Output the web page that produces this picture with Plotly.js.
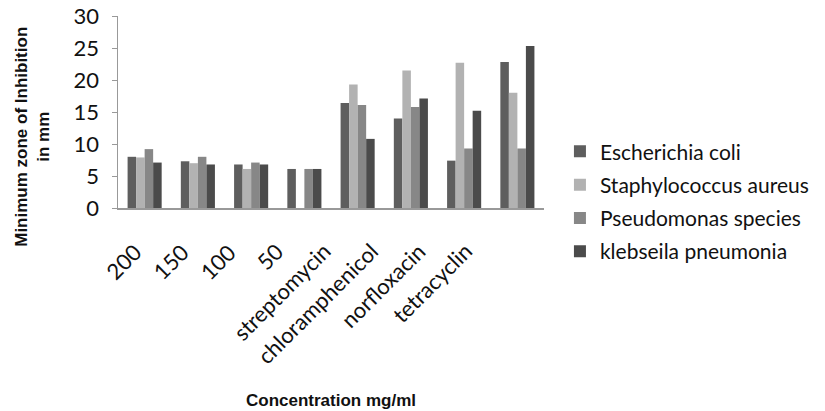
<!DOCTYPE html>
<html>
<head>
<meta charset="utf-8">
<script src="https://cdn.plot.ly/plotly-3.0.1.min.js"></script>
<style>html,body{margin:0;padding:0;background:#fff}#chart{width:825px;height:411px}</style>
</head>
<body>
<div id="chart"></div>
<script>
const categories = ["200", "150", "100", "50", "streptomycin", "chloramphenicol", "norfloxacin", "tetracyclin"];
const seriesNames = ["Escherichia coli", "Staphylococcus aureus", "Pseudomonas species", "klebseila pneumonia"];
const ecoli = [8.0, 7.3, 6.8, 6.1, 16.4, 14.0, 7.4, 22.8];
const staph = [7.9, 7.0, 6.1, 0, 19.3, 21.5, 22.7, 18.0];
const pseudo = [9.2, 8.0, 7.1, 6.1, 16.1, 15.8, 9.3, 9.3];
const kleb = [7.1, 6.8, 6.8, 6.1, 10.8, 17.1, 15.2, 25.3];
const yTicks = [0, 5, 10, 15, 20, 25, 30];

const colors = ["#5e5e5e", "#b2b2b2", "#878787", "#4b4b4b"];
const allValues = [ecoli, staph, pseudo, kleb];

const data = allValues.map((v, i) => ({
  type: "bar",
  name: seriesNames[i],
  legendgroup: "g" + i,
  x: categories,
  y: v,
  marker: {color: colors[i], line: {width: 0}}
}));

// category tick labels drawn as rotated text anchored at each category slot on the x scale
const tickLabelAnnotations = categories.map((c, i) => ({
  text: c, xref: "x", yref: "paper", x: i, y: -0.14,
  xanchor: "right", yanchor: "top", textangle: -45, showarrow: false,
  xshift: 5 - 6 * i,
  font: {size: 22, family: "Lato, 'Open Sans', sans-serif", color: "#111"}
}));

const layout = {
  width: 825, height: 411,
  margin: {l: 118, r: 280, t: 16, b: 203},
  paper_bgcolor: "#fff", plot_bgcolor: "#fff",
  barmode: "group",
  bargap: 0.36,
  bargroupgap: 0,
  font: {family: "Lato, 'Open Sans', sans-serif", color: "#111"},
  xaxis: {
    type: "category",
    categoryarray: categories,
    range: [-0.5, categories.length - 0.5],
    showticklabels: false,
    showline: true, linecolor: "#999", linewidth: 1.5,
    ticks: "", showgrid: false, zeroline: false,
    automargin: false
  },
  yaxis: {
    range: [0, 30],
    tickvals: yTicks,
    ticktext: yTicks.map(String),
    tickfont: {size: 22, color: "#111"},
    ticklabelstandoff: 8,
    showline: true, linecolor: "#999", linewidth: 1.5,
    ticks: "outside", ticklen: 5, tickcolor: "#999",
    showgrid: false, zeroline: false,
    automargin: false
  },
  legend: {
    x: 1.035, y: 0.40, xanchor: "left", yanchor: "top",
    font: {size: 21, color: "#111"},
    traceorder: "grouped",
    tracegroupgap: 3,
    itemwidth: 30
  },
  annotations: tickLabelAnnotations.concat([
    {text: "<b>Minimum zone of Inhibition</b><br><b>in mm</b>", xref: "paper", yref: "paper",
     x: -0.2, y: 0.37, xanchor: "center", yanchor: "middle", textangle: -90, showarrow: false,
     font: {size: 17, family: "'Liberation Sans', Arial, sans-serif", color: "#111"}},
    {text: "<b>Concentration mg/ml</b>", xref: "paper", yref: "paper",
     x: 0.50, y: -1.0, xanchor: "center", yanchor: "middle", showarrow: false,
     font: {size: 17, family: "'Liberation Sans', Arial, sans-serif", color: "#111"}}
  ])
};

Plotly.newPlot("chart", data, layout, {displayModeBar: false, staticPlot: true});
</script>
</body>
</html>
